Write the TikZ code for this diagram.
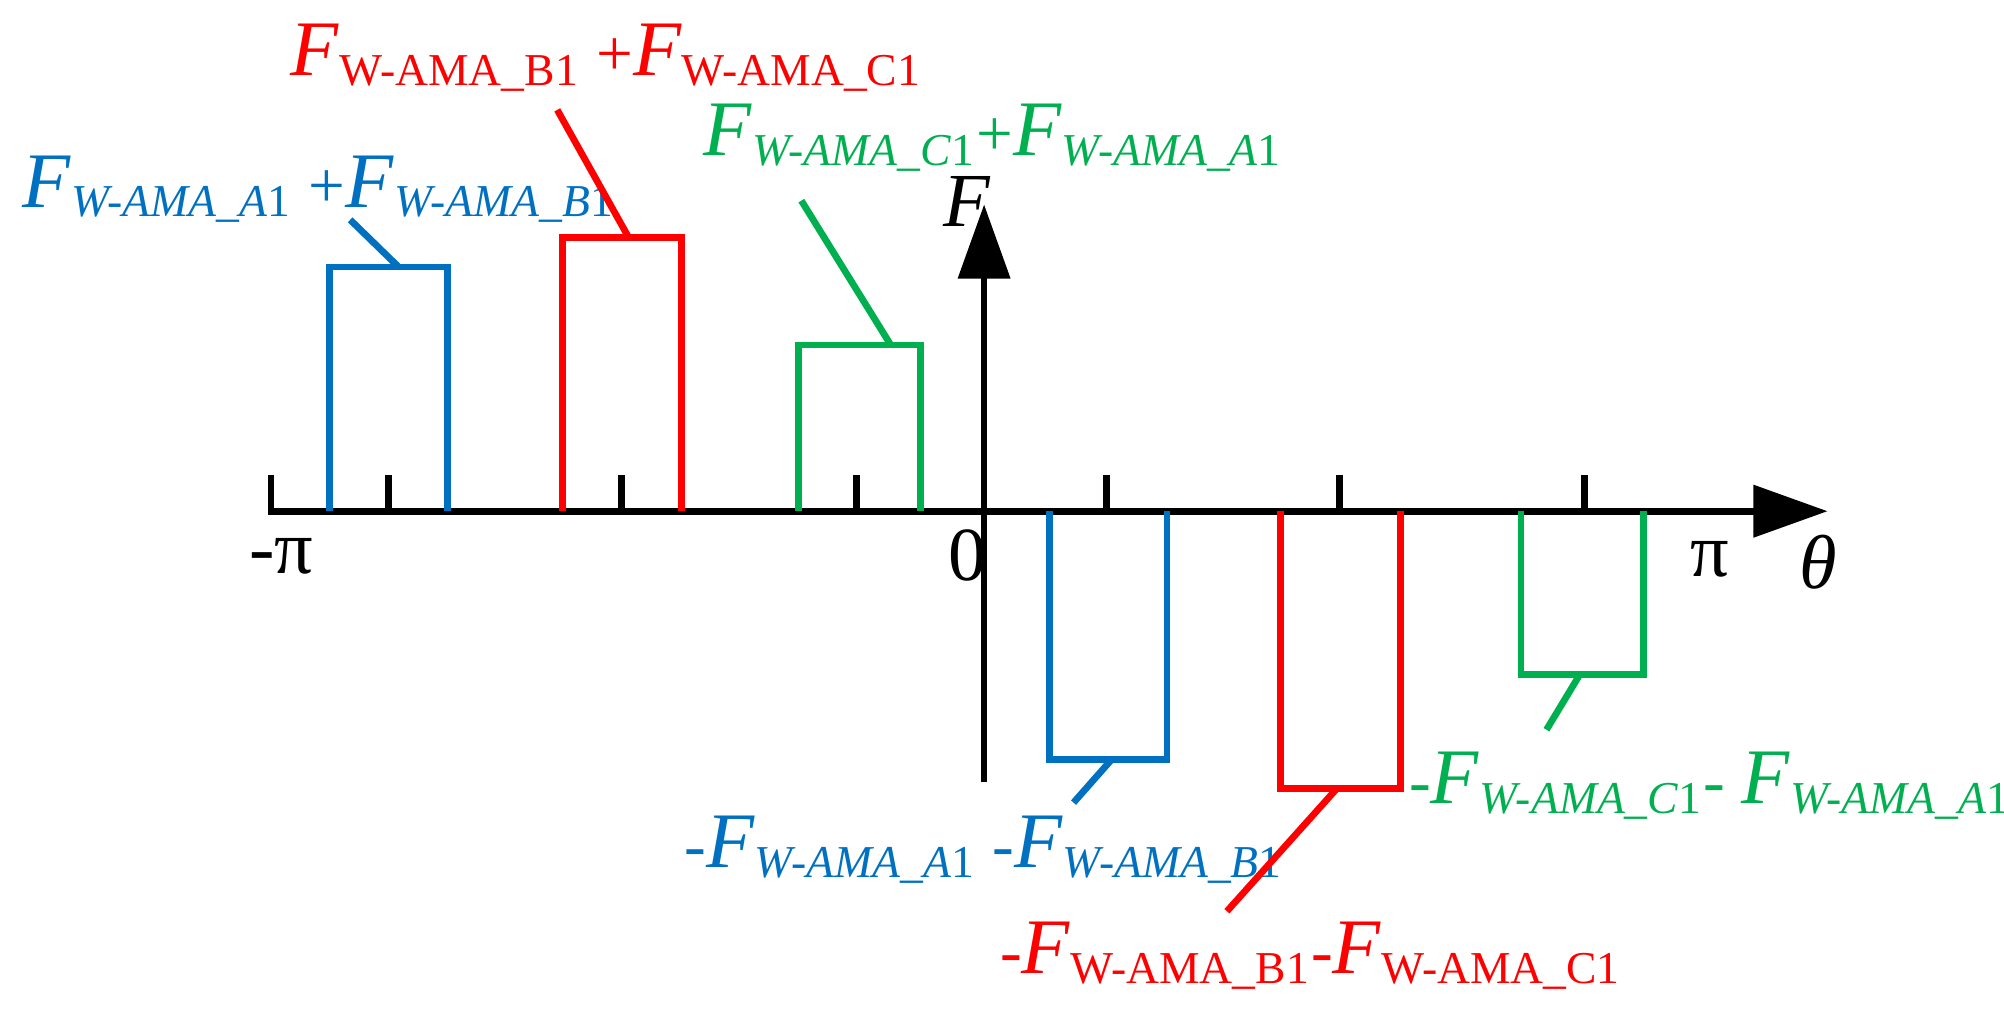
\documentclass[tikz,border=0pt]{standalone}
\usepackage{fontspec}
\setmainfont{Liberation Serif}
\usetikzlibrary{arrows.meta}
\definecolor{phA}{RGB}{0,112,192}
\definecolor{phB}{RGB}{255,0,0}
\definecolor{phC}{RGB}{0,176,80}
\newcommand{\Fi}[1]{{\fontsize{17.5}{20}\selectfont\textit{F}}\textsubscript{\textit{W-AMA\_#1}1}}
\newcommand{\Fu}[1]{{\fontsize{17.5}{20}\selectfont\textit{F}}\textsubscript{W-AMA\_#11}}
\begin{document}
\begin{tikzpicture}[x=0.01cm,y=-0.01cm,line width=1.5pt,
  lbl/.style={font=\fontsize{14.5}{18}\selectfont,inner sep=0pt},
  axlbl/.style={font=\fontsize{17}{20}\selectfont,inner sep=0pt}]
\useasboundingbox (0,0) rectangle (1568,789);
% axes
\coordinate (xs) at (210,400); \coordinate (xe) at (1430,400);
\coordinate (ys) at (770,612); \coordinate (ye) at (770,160);
\draw[-{Triangle[length=0.58cm,width=0.4cm]}] (xs) -- (xe);
\draw[-{Triangle[length=0.58cm,width=0.4cm]}] (ys) -- (ye);
\foreach \tx in {212,304,486,670}
  \draw (\tx,400) -- (\tx,372);
\foreach \tx in {866,1048,1240}
  \draw (\tx,400) -- (\tx,372);
\node[axlbl] (mpi) at (220,435) {-π};
\node[axlbl] (zero) at (757,435) {0};
\node[axlbl] (pi) at (1338,438) {π};
\node[axlbl] (theta) at (1423,440) {\textit{θ}};
\node[axlbl] (Flab) at (757,158) {\textit{F}};
% pulses
\draw[phA] (258,400) -- (258,209) -- (350,209) -- (350,400);
\draw[phB] (440,400) -- (440,186) -- (533,186) -- (533,400);
\draw[phC] (625,400) -- (625,270) -- (720,270) -- (720,400);
\draw[phA] (821,400) -- (821,594) -- (913,594) -- (913,400);
\draw[phB] (1002,400) -- (1002,617) -- (1096,617) -- (1096,400);
\draw[phC] (1190,400) -- (1190,528) -- (1286,528) -- (1286,400);
% labels
\node[lbl,phA,anchor=west] (lA) at (15,148) {\Fi{A} +\Fi{B}};
\node[lbl,phB,anchor=west] (lB) at (225,45) {\Fu{B} +\Fu{C}};
\node[lbl,phC,anchor=west] (lC) at (548,108) {\Fi{C}+\Fi{A}};
\node[lbl,phA,anchor=west] (lnA) at (533,665) {-\Fi{A} -\Fi{B}};
\node[lbl,phB,anchor=west] (lnB) at (780,748) {-\Fu{B}-\Fu{C}};
\node[lbl,phC,anchor=west] (lnC) at (1100,615) {-\Fi{C}- \Fi{A}};
% leaders
\draw[phA] (312,209) -- (274,172);
\draw[phB] (492,186) -- (436,86);
\draw[phC] (697,270) -- (627,157);
\draw[phA] (870,594) -- (840,628);
\draw[phB] (1046,617) -- (960,713);
\draw[phC] (1236,528) -- (1210,571);
\end{tikzpicture}
\end{document}
